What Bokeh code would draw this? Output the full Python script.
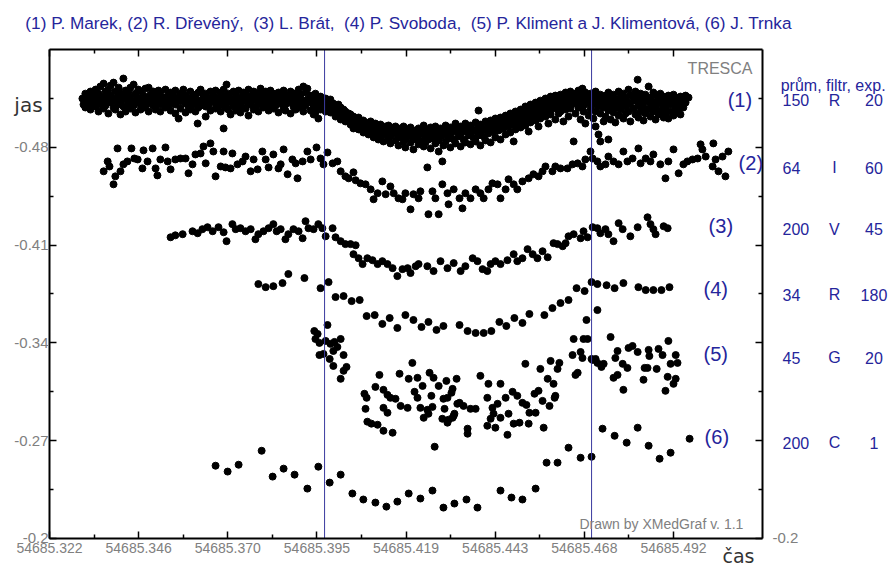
from bokeh.plotting import figure
from bokeh.models import Range1d, FixedTicker, LinearAxis, Label, ColumnDataSource
from bokeh.embed import file_html
from bokeh.resources import INLINE

# ---------------- data (time = JD - 54685, brightness "jas") ----------------
observers = ("(1) P. Marek, (2) R. Dřevěný,\u00a0 (3) L. Brát,\u00a0 (4) P. Svoboda,\u00a0 "
             "(5) P. Kliment a J. Klimentová, (6) J. Trnka")
series_labels = ["(1)", "(2)", "(3)", "(4)", "(5)", "(6)"]
table_header = "prům, filtr, exp."
aperture = ["150", "64", "200", "34", "45", "200"]
filters = ["R", "I", "V", "R", "G", "C"]
exposure = ["20", "60", "45", "180", "20", "1"]

x_ticks = [0.3216, 0.34597, 0.37034, 0.39471, 0.41908, 0.44345, 0.46782, 0.49219]
x_minor = [0.33379, 0.35816, 0.38253, 0.4069, 0.43127, 0.45564, 0.48001]
x_tick_labels = ["54685.322", "54685.346", "54685.370", "54685.395",
                 "54685.419", "54685.443", "54685.468", "54685.492"]
y_ticks = [-0.48, -0.41, -0.34, -0.27, -0.2]
y_minor = [-0.515, -0.445, -0.375, -0.305, -0.235]
y_tick_labels = ["-0.48", "-0.41", "-0.34", "-0.27", "-0.2"]
eclipse_marks = [0.3968, 0.4698]
t_min, t_max = 0.3216, 0.51653
jas_top, jas_bottom = -0.55, -0.2

series1 = [
 (0.3306,-0.5149),(0.3309,-0.5106),
 (0.3314,-0.5184),(0.3314,-0.5127),(0.3314,-0.5085),(0.3323,-0.5156),(0.3323,-0.5106),
 (0.3328,-0.5199),(0.3328,-0.5142),(0.3328,-0.5070),(0.3336,-0.5170),(0.3336,-0.5113),
 (0.3342,-0.5213),(0.3342,-0.5149),(0.3342,-0.5092),(0.3350,-0.5184),(0.3350,-0.5127),(0.3350,-0.5056),
 (0.3355,-0.5235),(0.3355,-0.5163),(0.3355,-0.5106),(0.3364,-0.5256),(0.3364,-0.5134),(0.3364,-0.5077),
 (0.3369,-0.5199),(0.3369,-0.5156),(0.3369,-0.5099),(0.3377,-0.5213),(0.3377,-0.5120),(0.3377,-0.5042),
 (0.3383,-0.5242),(0.3383,-0.5170),(0.3383,-0.5127),(0.3391,-0.5263),(0.3391,-0.5149),(0.3391,-0.5085),
 (0.3396,-0.5199),(0.3396,-0.5134),(0.3396,-0.5070),(0.3405,-0.5227),(0.3405,-0.5163),(0.3405,-0.5106),
 (0.3410,-0.5184),(0.3410,-0.5127),(0.3410,-0.5035),(0.3418,-0.5292),(0.3418,-0.5170),(0.3418,-0.5092),
 (0.3424,-0.5206),(0.3424,-0.5142),(0.3424,-0.5056),(0.3432,-0.5192),(0.3432,-0.5113),
 (0.3437,-0.5227),(0.3437,-0.5156),(0.3437,-0.5077),(0.3446,-0.5249),(0.3446,-0.5134),(0.3446,-0.5099),
 (0.3451,-0.5184),(0.3451,-0.5120),(0.3451,-0.5049),(0.3459,-0.5213),(0.3459,-0.5149),
 (0.3465,-0.5199),(0.3465,-0.5106),(0.3465,-0.5070),(0.3473,-0.5170),(0.3473,-0.5127),
 (0.3478,-0.5220),(0.3478,-0.5149),(0.3478,-0.5085),(0.3487,-0.5227),(0.3487,-0.5113),(0.3487,-0.5056),
 (0.3492,-0.5177),(0.3492,-0.5134),(0.3500,-0.5199),(0.3500,-0.5099),
 (0.3506,-0.5163),(0.3506,-0.5120),(0.3506,-0.5070),(0.3514,-0.5206),(0.3514,-0.5149),
 (0.3519,-0.5184),(0.3519,-0.5106),(0.3519,-0.5056),(0.3528,-0.5156),(0.3528,-0.5127),
 (0.3533,-0.5213),(0.3533,-0.5134),(0.3533,-0.5085),(0.3541,-0.5177),(0.3541,-0.5099),
 (0.3547,-0.5192),(0.3547,-0.5142),(0.3547,-0.5063),(0.3555,-0.5163),(0.3555,-0.5120),
 (0.3560,-0.5206),(0.3560,-0.5106),(0.3560,-0.5042),(0.3569,-0.5156),(0.3569,-0.5006),
 (0.3574,-0.5184),(0.3574,-0.5127),(0.3574,-0.5077),(0.3582,-0.5213),(0.3582,-0.5142),
 (0.3588,-0.5170),(0.3588,-0.5113),(0.3588,-0.5049),(0.3596,-0.5149),(0.3596,-0.5092),
 (0.3601,-0.5199),(0.3601,-0.5134),(0.3601,-0.5070),(0.3610,-0.5177),(0.3610,-0.5106),
 (0.3615,-0.5156),(0.3615,-0.5120),(0.3615,-0.5056),(0.3621,-0.4970),(0.3623,-0.5192),(0.3623,-0.5085),
 (0.3629,-0.5213),(0.3629,-0.5134),(0.3629,-0.5099),(0.3637,-0.5163),(0.3637,-0.5120),
 (0.3643,-0.5184),(0.3643,-0.5092),(0.3643,-0.5020),(0.3651,-0.5149),(0.3651,-0.5106),
 (0.3656,-0.5199),(0.3656,-0.5127),(0.3656,-0.5063),(0.3664,-0.5170),(0.3664,-0.5142),
 (0.3670,-0.5206),(0.3670,-0.5113),(0.3670,-0.5077),(0.3678,-0.5156),(0.3678,-0.5099),
 (0.3684,-0.5192),(0.3684,-0.5134),(0.3684,-0.5056),(0.3692,-0.5213),(0.3692,-0.5106),(0.3692,-0.4935),
 (0.3697,-0.5163),(0.3697,-0.5127),(0.3697,-0.5085),(0.3700,-0.5249),(0.3705,-0.5184),(0.3705,-0.5070),
 (0.3711,-0.5149),(0.3711,-0.5120),(0.3711,-0.5035),(0.3719,-0.5199),(0.3719,-0.5099),
 (0.3725,-0.5170),(0.3725,-0.5134),(0.3725,-0.5063),(0.3733,-0.5206),(0.3733,-0.5113),
 (0.3738,-0.5156),(0.3738,-0.5092),(0.3738,-0.5049),(0.3746,-0.5192),(0.3746,-0.5127),
 (0.3752,-0.5177),(0.3752,-0.5142),(0.3752,-0.5077),(0.3760,-0.5213),(0.3760,-0.5106),(0.3760,-0.5027),
 (0.3766,-0.5163),(0.3766,-0.5120),(0.3774,-0.5199),(0.3774,-0.5142),(0.3774,-0.5070),
 (0.3779,-0.5170),(0.3779,-0.5092),(0.3787,-0.5184),(0.3787,-0.5127),(0.3787,-0.5056),
 (0.3793,-0.5220),(0.3793,-0.5149),(0.3793,-0.5106),(0.3801,-0.5177),(0.3801,-0.5085),
 (0.3807,-0.5199),(0.3807,-0.5134),(0.3807,-0.5099),(0.3815,-0.5163),(0.3815,-0.5120),(0.3815,-0.5063),
 (0.3820,-0.5206),(0.3820,-0.5106),(0.3828,-0.5184),(0.3828,-0.5142),(0.3828,-0.5077),
 (0.3834,-0.5156),(0.3834,-0.5099),(0.3842,-0.5192),(0.3842,-0.5127),(0.3842,-0.5049),
 (0.3848,-0.5170),(0.3848,-0.5113),(0.3856,-0.5206),(0.3856,-0.5142),(0.3856,-0.5085),
 (0.3861,-0.5177),(0.3861,-0.5106),(0.3861,-0.5063),(0.3869,-0.5156),(0.3869,-0.5120),
 (0.3875,-0.5199),(0.3875,-0.5134),(0.3875,-0.5042),(0.3883,-0.5184),(0.3883,-0.5092),
 (0.3889,-0.5163),(0.3889,-0.5127),(0.3889,-0.5070),(0.3897,-0.5213),(0.3897,-0.5106),
 (0.3902,-0.5177),(0.3902,-0.5149),(0.3902,-0.5085),(0.3910,-0.5235),(0.3910,-0.5127),(0.3910,-0.5056),
 (0.3916,-0.5192),(0.3916,-0.5099),(0.3921,-0.5220),(0.3921,-0.5142),
 (0.3930,-0.5170),(0.3930,-0.5120),(0.3930,-0.5063),(0.3938,-0.5156),(0.3938,-0.5085),(0.3938,-0.5035),
 (0.3943,-0.5184),(0.3943,-0.5127),(0.3943,-0.5049),(0.3951,-0.5149),(0.3951,-0.5099),(0.3951,-0.5006),
 (0.3957,-0.5163),(0.3957,-0.5113),(0.3957,-0.5070),(0.3962,-0.5134),(0.3962,-0.5085),
 (0.3971,-0.5149),(0.3971,-0.5099),(0.3971,-0.5056),(0.3979,-0.5127),(0.3979,-0.5077),
 (0.3984,-0.5142),(0.3984,-0.5106),(0.3984,-0.5049),(0.3992,-0.5113),(0.3992,-0.5070),
 (0.3998,-0.5099),(0.3998,-0.5056),(0.3998,-0.5020),(0.4006,-0.5106),(0.4006,-0.5042),
 (0.4012,-0.5085),(0.4012,-0.5035),(0.4012,-0.4999),(0.4020,-0.5070),(0.4020,-0.5013),
 (0.4025,-0.5056),(0.4025,-0.5027),(0.4025,-0.4985),(0.4034,-0.5042),(0.4034,-0.4992),
 (0.4039,-0.5035),(0.4039,-0.5006),(0.4039,-0.4963),(0.4047,-0.5020),(0.4047,-0.4978),(0.4047,-0.4935),
 (0.4053,-0.4999),(0.4053,-0.4956),(0.4061,-0.5013),(0.4061,-0.4970),(0.4061,-0.4928),
 (0.4066,-0.4985),(0.4066,-0.4942),(0.4074,-0.4992),(0.4074,-0.4956),(0.4074,-0.4906),
 (0.4080,-0.4978),(0.4080,-0.4928),(0.4088,-0.4963),(0.4088,-0.4935),(0.4088,-0.4892),
 (0.4094,-0.4985),(0.4094,-0.4949),(0.4094,-0.4906),(0.4102,-0.4956),(0.4102,-0.4913),(0.4102,-0.4871),
 (0.4107,-0.4970),(0.4107,-0.4928),(0.4115,-0.4949),(0.4115,-0.4899),(0.4115,-0.4856),
 (0.4121,-0.4963),(0.4121,-0.4921),(0.4121,-0.4878),(0.4129,-0.4935),(0.4129,-0.4892),(0.4129,-0.4842),
 (0.4135,-0.4949),(0.4135,-0.4906),(0.4143,-0.4956),(0.4143,-0.4913),(0.4143,-0.4863),
 (0.4148,-0.4928),(0.4148,-0.4885),(0.4148,-0.4828),(0.4157,-0.4942),(0.4157,-0.4899),
 (0.4162,-0.4949),(0.4162,-0.4913),(0.4162,-0.4849),(0.4170,-0.4921),(0.4170,-0.4871),(0.4170,-0.4813),
 (0.4176,-0.4935),(0.4176,-0.4892),(0.4184,-0.4949),(0.4184,-0.4906),(0.4184,-0.4842),
 (0.4189,-0.4913),(0.4189,-0.4863),(0.4189,-0.4799),(0.4198,-0.4928),(0.4198,-0.4885),
 (0.4203,-0.4942),(0.4203,-0.4899),(0.4203,-0.4835),(0.4211,-0.4906),(0.4211,-0.4856),(0.4211,-0.4785),
 (0.4217,-0.4921),(0.4217,-0.4878),(0.4225,-0.4935),(0.4225,-0.4892),(0.4225,-0.4821),
 (0.4230,-0.4899),(0.4230,-0.4849),(0.4239,-0.4956),(0.4239,-0.4913),(0.4239,-0.4806),
 (0.4244,-0.4928),(0.4244,-0.4871),(0.4244,-0.4835),(0.4249,-0.4656),(0.4252,-0.4906),(0.4252,-0.4856),
 (0.4258,-0.4942),(0.4258,-0.4885),(0.4258,-0.4792),(0.4266,-0.4921),(0.4266,-0.4863),
 (0.4271,-0.4949),(0.4271,-0.4899),(0.4271,-0.4828),(0.4280,-0.4913),(0.4280,-0.4849),(0.4280,-0.4770),
 (0.4285,-0.4935),(0.4285,-0.4878),(0.4290,-0.4699),(0.4293,-0.4928),(0.4293,-0.4892),(0.4293,-0.4813),
 (0.4299,-0.4956),(0.4299,-0.4906),(0.4299,-0.4842),(0.4307,-0.4921),(0.4307,-0.4863),
 (0.4312,-0.4942),(0.4312,-0.4885),(0.4312,-0.4799),(0.4321,-0.4913),(0.4321,-0.4856),
 (0.4326,-0.4970),(0.4326,-0.4928),(0.4326,-0.4828),(0.4334,-0.4935),(0.4334,-0.4878),
 (0.4340,-0.4949),(0.4340,-0.4899),(0.4340,-0.4806),(0.4348,-0.4928),(0.4348,-0.4856),
 (0.4353,-0.4970),(0.4353,-0.4913),(0.4353,-0.4835),(0.4362,-0.4942),(0.4362,-0.4885),
 (0.4367,-0.4956),(0.4367,-0.4906),(0.4367,-0.4821),(0.4375,-0.4928),(0.4375,-0.4871),
 (0.4381,-0.4978),(0.4381,-0.4921),(0.4381,-0.4842),(0.4389,-0.5063),(0.4389,-0.4942),(0.4389,-0.4885),
 (0.4394,-0.4963),(0.4394,-0.4906),(0.4394,-0.4813),(0.4403,-0.4935),(0.4403,-0.4878),
 (0.4408,-0.4985),(0.4408,-0.4928),(0.4408,-0.4849),(0.4416,-0.4956),(0.4416,-0.4899),
 (0.4422,-0.4992),(0.4422,-0.4935),(0.4422,-0.4835),(0.4430,-0.4963),(0.4430,-0.4913),
 (0.4435,-0.5006),(0.4435,-0.4949),(0.4435,-0.4871),(0.4444,-0.4978),(0.4444,-0.4921),
 (0.4449,-0.5013),(0.4449,-0.4956),(0.4449,-0.4856),(0.4457,-0.4992),(0.4457,-0.4935),
 (0.4463,-0.5027),(0.4463,-0.4970),(0.4463,-0.4892),(0.4471,-0.5006),(0.4471,-0.4949),
 (0.4476,-0.5042),(0.4476,-0.4985),(0.4476,-0.4906),(0.4485,-0.5020),(0.4485,-0.4963),(0.4485,-0.4842),
 (0.4490,-0.5056),(0.4490,-0.4999),(0.4490,-0.4928),(0.4498,-0.5035),(0.4498,-0.4978),
 (0.4504,-0.5070),(0.4504,-0.5013),(0.4504,-0.4942),(0.4512,-0.5049),(0.4512,-0.4992),
 (0.4517,-0.5092),(0.4517,-0.5027),(0.4517,-0.4956),(0.4526,-0.5063),(0.4526,-0.5006),(0.4526,-0.4913),
 (0.4531,-0.5106),(0.4531,-0.5042),(0.4531,-0.4978),(0.4539,-0.5077),(0.4539,-0.5020),
 (0.4545,-0.5120),(0.4545,-0.5056),(0.4545,-0.4992),(0.4553,-0.5092),(0.4553,-0.5035),(0.4553,-0.4949),
 (0.4558,-0.5134),(0.4558,-0.5070),(0.4558,-0.5006),(0.4567,-0.5106),(0.4567,-0.5049),
 (0.4572,-0.5149),(0.4572,-0.5085),(0.4572,-0.5020),(0.4580,-0.5120),(0.4580,-0.5063),(0.4580,-0.4970),
 (0.4586,-0.5163),(0.4586,-0.5099),(0.4586,-0.5035),(0.4594,-0.5134),(0.4594,-0.5077),
 (0.4599,-0.5170),(0.4599,-0.5113),(0.4599,-0.4999),(0.4608,-0.5149),(0.4608,-0.5092),(0.4608,-0.5042),
 (0.4613,-0.5177),(0.4613,-0.5127),(0.4613,-0.5056),(0.4621,-0.5156),(0.4621,-0.5099),(0.4621,-0.4985),
 (0.4627,-0.5192),(0.4627,-0.5134),(0.4627,-0.5070),(0.4635,-0.5163),(0.4635,-0.5106),(0.4635,-0.5020),
 (0.4640,-0.5199),(0.4640,-0.5142),(0.4640,-0.5077),(0.4649,-0.5170),(0.4649,-0.5113),(0.4649,-0.4842),
 (0.4654,-0.5184),(0.4654,-0.5127),(0.4654,-0.5042),(0.4662,-0.5206),(0.4662,-0.5149),(0.4662,-0.5085),
 (0.4668,-0.5177),(0.4668,-0.5120),(0.4668,-0.4999),(0.4673,-0.5220),
 (0.4676,-0.5156),(0.4676,-0.5099),(0.4676,-0.5056),(0.4681,-0.5192),(0.4681,-0.5134),(0.4681,-0.4970),
 (0.4690,-0.5170),(0.4690,-0.5113),(0.4690,-0.5027),(0.4695,-0.5184),(0.4695,-0.5127),(0.4695,-0.5070),
 (0.4703,-0.5163),(0.4703,-0.5106),(0.4703,-0.5006),
 (0.4709,-0.5199),(0.4709,-0.5142),(0.4709,-0.5056),(0.4709,-0.4949),
 (0.4717,-0.5156),(0.4717,-0.5092),(0.4717,-0.4892),
 (0.4722,-0.5177),(0.4722,-0.5120),(0.4722,-0.5042),(0.4722,-0.4842),
 (0.4731,-0.5149),(0.4731,-0.5085),(0.4731,-0.4985),(0.4736,-0.5170),(0.4736,-0.5113),(0.4736,-0.5020),
 (0.4744,-0.5192),(0.4744,-0.5134),(0.4744,-0.5063),(0.4744,-0.4856),
 (0.4750,-0.5156),(0.4750,-0.5099),(0.4750,-0.4999),(0.4758,-0.5177),(0.4758,-0.5120),(0.4758,-0.5049),
 (0.4763,-0.5142),(0.4763,-0.5085),(0.4763,-0.4978),(0.4772,-0.5199),(0.4772,-0.5127),(0.4772,-0.5027),
 (0.4777,-0.5163),(0.4777,-0.5106),(0.4777,-0.5070),(0.4785,-0.5184),(0.4785,-0.5134),(0.4785,-0.5006),
 (0.4791,-0.5149),(0.4791,-0.5092),(0.4791,-0.5042),(0.4799,-0.5213),(0.4799,-0.5120),(0.4799,-0.5056),
 (0.4804,-0.5170),(0.4804,-0.5106),(0.4804,-0.4985),(0.4813,-0.5156),(0.4813,-0.5077),
 (0.4818,-0.5199),(0.4818,-0.5134),(0.4818,-0.5035),(0.4824,-0.5284),
 (0.4826,-0.5163),(0.4826,-0.5099),(0.4826,-0.5013),(0.4832,-0.5184),(0.4832,-0.5120),(0.4832,-0.5056),
 (0.4840,-0.5149),(0.4840,-0.5085),(0.4840,-0.4992),(0.4845,-0.5177),(0.4845,-0.5127),(0.4845,-0.5042),
 (0.4854,-0.5235),(0.4854,-0.5142),(0.4854,-0.5070),(0.4859,-0.5156),(0.4859,-0.5106),(0.4859,-0.5020),
 (0.4867,-0.5192),(0.4867,-0.5120),(0.4867,-0.5056),(0.4873,-0.5170),(0.4873,-0.5092),(0.4873,-0.4999),
 (0.4881,-0.5149),(0.4881,-0.5113),(0.4881,-0.5035),(0.4886,-0.5184),(0.4886,-0.5127),(0.4886,-0.5063),
 (0.4895,-0.5163),(0.4895,-0.5099),(0.4895,-0.5013),(0.4900,-0.5142),(0.4900,-0.5085),(0.4900,-0.5042),
 (0.4908,-0.5170),(0.4908,-0.5120),(0.4908,-0.5006),(0.4914,-0.5149),(0.4914,-0.5106),(0.4914,-0.5056),
 (0.4922,-0.5177),(0.4922,-0.5127),(0.4922,-0.5027),(0.4927,-0.5156),(0.4927,-0.5092),(0.4927,-0.5049),
 (0.4936,-0.5134),(0.4936,-0.5070),(0.4941,-0.5163),(0.4941,-0.5113),(0.4941,-0.5035),
 (0.4949,-0.5142),(0.4949,-0.5085),(0.4955,-0.5170),(0.4955,-0.5120),(0.4963,-0.5156),
]

series2 = [
 (0.3364,-0.4628),(0.3375,-0.4699),(0.3380,-0.4663),(0.3391,-0.4535),(0.3396,-0.4592),(0.3402,-0.4792),
 (0.3410,-0.4628),(0.3418,-0.4678),(0.3429,-0.4699),(0.3440,-0.4792),(0.3448,-0.4720),(0.3457,-0.4713),
 (0.3470,-0.4649),(0.3473,-0.4778),(0.3484,-0.4699),(0.3498,-0.4792),(0.3506,-0.4649),(0.3511,-0.4599),
 (0.3519,-0.4713),(0.3533,-0.4799),(0.3539,-0.4699),(0.3547,-0.4642),(0.3560,-0.4713),(0.3574,-0.4720),
 (0.3588,-0.4720),(0.3596,-0.4614),(0.3607,-0.4678),(0.3615,-0.4749),(0.3629,-0.4756),(0.3637,-0.4806),
 (0.3643,-0.4685),(0.3656,-0.4828),(0.3664,-0.4770),(0.3670,-0.4592),(0.3684,-0.4663),(0.3692,-0.4770),
 (0.3697,-0.4656),(0.3711,-0.4649),(0.3716,-0.4756),(0.3730,-0.4678),(0.3744,-0.4699),(0.3752,-0.4734),
 (0.3766,-0.4628),(0.3774,-0.4713),(0.3785,-0.4642),(0.3798,-0.4770),(0.3807,-0.4713),(0.3815,-0.4656),
 (0.3828,-0.4749),(0.3842,-0.4649),(0.3848,-0.4678),(0.3856,-0.4785),(0.3867,-0.4607),(0.3880,-0.4713),
 (0.3889,-0.4685),(0.3894,-0.4578),(0.3908,-0.4699),(0.3921,-0.4770),(0.3930,-0.4713),(0.3946,-0.4799),
 (0.3957,-0.4720),(0.3965,-0.4678),(0.3976,-0.4763),(0.3990,-0.4685),(0.4003,-0.4699),(0.4012,-0.4628),
 (0.4025,-0.4592),(0.4034,-0.4578),(0.4047,-0.4621),(0.4053,-0.4564),(0.4066,-0.4542),(0.4080,-0.4535),
 (0.4094,-0.4499),(0.4102,-0.4428),(0.4113,-0.4471),(0.4126,-0.4556),(0.4135,-0.4464),(0.4148,-0.4520),
 (0.4157,-0.4471),(0.4170,-0.4435),(0.4181,-0.4428),(0.4189,-0.4471),(0.4203,-0.4356),(0.4211,-0.4464),
 (0.4225,-0.4435),(0.4230,-0.4485),(0.4252,-0.4321),(0.4263,-0.4485),(0.4271,-0.4435),(0.4280,-0.4321),
 (0.4290,-0.4535),(0.4304,-0.4471),(0.4307,-0.4392),(0.4321,-0.4499),(0.4337,-0.4435),(0.4345,-0.4363),
 (0.4353,-0.4471),(0.4367,-0.4435),(0.4381,-0.4499),(0.4394,-0.4471),(0.4403,-0.4435),(0.4416,-0.4499),
 (0.4427,-0.4542),(0.4441,-0.4535),(0.4449,-0.4435),(0.4463,-0.4499),(0.4471,-0.4571),(0.4485,-0.4535),
 (0.4495,-0.4499),(0.4509,-0.4556),(0.4526,-0.4578),(0.4539,-0.4607),(0.4553,-0.4592),(0.4564,-0.4628),
 (0.4572,-0.4663),(0.4591,-0.4628),(0.4599,-0.4663),(0.4613,-0.4649),(0.4632,-0.4649),(0.4646,-0.4678),
 (0.4660,-0.4685),(0.4673,-0.4663),(0.4681,-0.4713),(0.4695,-0.4770),(0.4701,-0.4720),(0.4714,-0.4699),
 (0.4722,-0.4663),(0.4736,-0.4678),(0.4744,-0.4734),(0.4758,-0.4699),(0.4772,-0.4678),(0.4785,-0.4770),
 (0.4796,-0.4699),(0.4810,-0.4720),(0.4826,-0.4792),(0.4832,-0.4685),(0.4846,-0.4720),(0.4859,-0.4699),
 (0.4867,-0.4749),(0.4886,-0.4678),(0.4900,-0.4578),(0.4908,-0.4699),(0.4922,-0.4785),(0.4936,-0.4614),
 (0.4949,-0.4678),(0.4960,-0.4699),(0.4974,-0.4713),(0.4988,-0.4720),(0.4996,-0.4821),(0.5001,-0.4785),
 (0.5010,-0.4734),(0.5029,-0.4663),(0.5031,-0.4828),(0.5037,-0.4713),(0.5045,-0.4628),(0.5056,-0.4734),
 (0.5064,-0.4592),(0.5072,-0.4770),
]

series3 = [
 (0.3547,-0.4156),(0.3560,-0.4170),(0.3580,-0.4178),(0.3607,-0.4199),(0.3621,-0.4185),(0.3634,-0.4214),
 (0.3648,-0.4228),(0.3662,-0.4199),(0.3678,-0.4228),(0.3692,-0.4192),(0.3700,-0.4128),(0.3716,-0.4250),
 (0.3725,-0.4214),(0.3738,-0.4221),(0.3752,-0.4199),(0.3766,-0.4214),(0.3779,-0.4142),(0.3787,-0.4178),
 (0.3801,-0.4199),(0.3815,-0.4221),(0.3828,-0.4250),(0.3837,-0.4199),(0.3848,-0.4214),(0.3861,-0.4142),
 (0.3869,-0.4178),(0.3883,-0.4214),(0.3897,-0.4199),(0.3908,-0.4149),(0.3916,-0.4271),(0.3924,-0.4221),
 (0.3938,-0.4214),(0.3951,-0.4250),(0.3962,-0.4221),(0.3971,-0.4163),(0.3990,-0.4221),(0.3998,-0.4156),
 (0.4012,-0.4128),(0.4025,-0.4107),(0.4039,-0.4107),(0.4053,-0.4099),(0.4047,-0.4035),(0.4061,-0.4006),
 (0.4072,-0.3964),(0.4085,-0.4006),(0.4099,-0.3992),(0.4113,-0.3964),(0.4126,-0.3985),(0.4140,-0.3964),
 (0.4154,-0.3935),(0.4167,-0.3878),(0.4181,-0.3928),(0.4195,-0.3935),(0.4203,-0.3900),(0.4217,-0.3949),
 (0.4225,-0.3964),(0.4249,-0.3949),(0.4266,-0.3914),(0.4285,-0.3985),(0.4304,-0.3935),(0.4321,-0.3971),
 (0.4340,-0.3914),(0.4353,-0.3949),(0.4373,-0.4006),(0.4386,-0.3985),(0.4400,-0.3928),(0.4413,-0.3914),
 (0.4422,-0.3964),(0.4435,-0.3985),(0.4449,-0.3964),(0.4468,-0.3992),(0.4485,-0.4035),(0.4495,-0.3985),
 (0.4509,-0.4006),(0.4523,-0.4071),(0.4537,-0.4035),(0.4550,-0.4006),(0.4564,-0.4056),(0.4578,-0.4013),
 (0.4594,-0.4114),(0.4605,-0.4107),(0.4619,-0.4092),(0.4627,-0.4114),(0.4635,-0.4163),(0.4649,-0.4178),
 (0.4668,-0.4149),(0.4676,-0.4199),(0.4687,-0.4156),(0.4701,-0.4228),(0.4714,-0.4221),(0.4722,-0.4185),
 (0.4736,-0.4214),(0.4744,-0.4178),(0.4758,-0.4128),(0.4772,-0.4257),(0.4783,-0.4214),(0.4804,-0.4163),
 (0.4824,-0.4228),(0.4851,-0.4299),(0.4859,-0.4250),(0.4867,-0.4214),(0.4873,-0.4178),(0.4895,-0.4235),
 (0.4906,-0.4221),
]

series4 = [
 (0.3787,-0.3821),(0.3807,-0.3799),(0.3828,-0.3806),(0.3853,-0.3828),(0.3869,-0.3893),(0.3913,-0.3864),
 (0.3957,-0.3792),(0.3979,-0.3835),(0.3998,-0.3728),(0.4020,-0.3735),(0.4042,-0.3699),(0.4064,-0.3707),
 (0.4083,-0.3592),(0.4105,-0.3599),(0.4126,-0.3536),(0.4146,-0.3578),(0.4167,-0.3507),(0.4189,-0.3599),
 (0.4211,-0.3564),(0.4233,-0.3514),(0.4252,-0.3550),(0.4274,-0.3493),(0.4293,-0.3521),(0.4337,-0.3528),
 (0.4359,-0.3485),(0.4381,-0.3471),(0.4403,-0.3471),(0.4424,-0.3485),(0.4446,-0.3550),(0.4465,-0.3521),
 (0.4487,-0.3578),(0.4509,-0.3543),(0.4528,-0.3607),(0.4569,-0.3599),(0.4591,-0.3649),(0.4613,-0.3685),
 (0.4635,-0.3707),(0.4657,-0.3792),(0.4679,-0.3771),(0.4698,-0.3835),(0.4714,-0.3821),(0.4739,-0.3813),
 (0.4761,-0.3792),(0.4785,-0.3828),(0.4826,-0.3799),(0.4846,-0.3778),(0.4867,-0.3778),(0.4889,-0.3778),
 (0.4911,-0.3799),
]

series5 = [
 (0.3976,-0.3528),(0.3940,-0.3485),(0.3949,-0.3464),(0.3943,-0.3428),(0.3954,-0.3400),(0.3971,-0.3414),
 (0.3984,-0.3393),(0.3995,-0.3407),(0.4012,-0.3428),(0.4003,-0.3371),(0.3954,-0.3313),(0.3965,-0.3321),
 (0.3982,-0.3285),(0.3992,-0.3235),(0.4020,-0.3313),(0.4028,-0.3228),(0.4020,-0.3200),(0.4012,-0.3143),
 (0.3992,-0.3342),
 (0.4208,-0.3257),(0.4118,-0.3171),(0.4173,-0.3179),(0.4198,-0.3143),(0.4222,-0.3150),(0.4255,-0.3186),
 (0.4266,-0.3150),(0.4280,-0.3092),(0.4301,-0.3128),(0.4329,-0.3143),(0.4107,-0.3085),(0.4129,-0.3064),
 (0.4077,-0.3036),(0.4083,-0.3007),(0.4140,-0.3028),(0.4148,-0.3007),(0.4162,-0.3000),(0.4214,-0.3050),
 (0.4236,-0.3092),(0.4222,-0.3007),(0.4260,-0.3021),(0.4293,-0.3000),(0.4315,-0.3043),(0.4331,-0.2964),
 (0.4080,-0.2928),(0.4129,-0.2935),(0.4140,-0.2900),(0.4176,-0.2949),(0.4195,-0.2935),(0.4230,-0.2935),
 (0.4249,-0.2921),(0.4263,-0.2942),(0.4296,-0.2928),(0.4239,-0.2864),(0.4252,-0.2893),(0.4290,-0.2857),
 (0.4307,-0.2850),(0.4321,-0.2878),(0.4085,-0.2836),(0.4096,-0.2822),(0.4113,-0.2814),(0.4129,-0.2771),
 (0.4154,-0.2757),(0.4269,-0.2657),
 (0.4318,-0.3071),(0.4304,-0.3007),(0.4323,-0.2893),(0.4304,-0.2829),(0.4337,-0.2971),(0.4348,-0.2949),
 (0.4367,-0.2928),(0.4381,-0.2928),(0.4318,-0.2864),(0.4359,-0.2786),(0.4359,-0.2750),(0.4394,-0.3164),
 (0.4416,-0.3107),(0.4449,-0.3107),(0.4413,-0.3007),(0.4427,-0.2935),(0.4441,-0.2964),(0.4430,-0.2893),
 (0.4422,-0.2857),(0.4413,-0.2807),(0.4435,-0.2793),(0.4449,-0.2864),(0.4463,-0.3007),(0.4471,-0.2893),
 (0.4482,-0.3050),(0.4485,-0.2822),(0.4468,-0.2742),(0.4495,-0.3021),(0.4501,-0.2829),(0.4509,-0.2971),
 (0.4520,-0.2956),(0.4526,-0.2822),(0.4517,-0.3250),(0.4528,-0.2900),(0.4542,-0.3036),(0.4545,-0.2900),
 (0.4553,-0.3057),(0.4558,-0.3214),(0.4564,-0.2985),(0.4567,-0.2793),(0.4578,-0.3143),(0.4583,-0.2949),
 (0.4586,-0.3271),(0.4594,-0.3107),(0.4597,-0.3007),(0.4605,-0.3214),(0.4610,-0.3257),(0.4599,-0.3021),
 (0.4649,-0.3428),(0.4654,-0.3171),(0.4660,-0.3186),(0.4646,-0.3313),(0.4668,-0.3335),(0.4673,-0.3292),
 (0.4676,-0.3428),(0.4687,-0.3428),(0.4684,-0.3564),(0.4698,-0.3285),(0.4701,-0.3278),(0.4709,-0.3285),
 (0.4714,-0.3257),(0.4725,-0.3228),(0.4731,-0.3250),(0.4714,-0.3635),(0.4750,-0.3442),(0.4758,-0.3150),
 (0.4769,-0.3171),(0.4763,-0.3292),(0.4769,-0.3342),(0.4783,-0.3250),(0.4785,-0.3064),(0.4796,-0.3221),
 (0.4799,-0.3364),(0.4810,-0.3378),(0.4824,-0.3335),(0.4840,-0.3136),(0.4843,-0.3221),(0.4851,-0.3221),
 (0.4854,-0.3350),(0.4856,-0.3306),(0.4876,-0.3214),(0.4881,-0.3357),(0.4892,-0.3313),(0.4900,-0.3057),
 (0.4906,-0.3157),(0.4908,-0.3414),(0.4914,-0.3250),(0.4922,-0.3107),(0.4928,-0.3143),(0.4933,-0.3257),
 (0.4928,-0.3313),
]

series6 = [
 (0.3670,-0.2521),(0.3703,-0.2479),(0.3733,-0.2528),(0.3796,-0.2628),(0.3826,-0.2443),(0.3856,-0.2500),
 (0.3886,-0.2457),(0.3921,-0.2357),(0.3951,-0.2514),(0.3982,-0.2400),(0.4012,-0.2457),(0.4044,-0.2322),
 (0.4074,-0.2279),(0.4107,-0.2257),(0.4137,-0.2228),(0.4167,-0.2264),(0.4198,-0.2322),(0.4230,-0.2286),
 (0.4263,-0.2343),(0.4293,-0.2221),(0.4323,-0.2250),(0.4356,-0.2279),(0.4386,-0.2221),(0.4449,-0.2343),
 (0.4479,-0.2293),(0.4509,-0.2279),(0.4545,-0.2357),(0.4575,-0.2543),(0.4605,-0.2543),(0.4635,-0.2650),
 (0.4668,-0.2578),(0.4698,-0.2585),(0.4728,-0.2786),(0.4761,-0.2735),(0.4794,-0.2686),(0.4824,-0.2793),
 (0.4854,-0.2664),(0.4884,-0.2571),(0.4914,-0.2614),(0.4966,-0.2714),
]

all_series = [series1, series2, series3, series4, series5, series6]

# ---------------- style ----------------
BLUE = "#25259b"
GRAY = "#808080"
FONT = "Liberation Sans"

# the frame covers the whole canvas; the plot box is drawn by axes at fixed locations
p = figure(width=891, height=567, output_backend="svg", toolbar_location=None,
           x_range=Range1d(0.3082, 0.5518), y_range=Range1d(-0.17924, -0.58507),
           x_axis_type=None, y_axis_type=None, min_border=0)
p.background_fill_color = "white"
p.border_fill_color = "white"
p.outline_line_color = None


def make_axis(ticks, minor, labels, standoff, loc, bounds, size="14px"):
    ax = LinearAxis(ticker=FixedTicker(ticks=ticks, minor_ticks=minor),
                    fixed_location=loc, bounds=bounds)
    ax.axis_line_color = "black"
    ax.axis_line_width = 2
    ax.major_tick_in = 7
    ax.major_tick_out = 0
    ax.minor_tick_in = 4
    ax.minor_tick_out = 0
    ax.major_tick_line_width = 1.5
    ax.minor_tick_line_width = 1.5
    ax.major_tick_line_color = "black"
    ax.minor_tick_line_color = "black"
    ax.major_label_text_font = FONT
    ax.major_label_text_font_size = size
    ax.major_label_text_color = GRAY
    ax.major_label_standoff = standoff
    ax.major_label_overrides = {t: lab for t, lab in zip(ticks, labels)}
    return ax


xb = (t_min, t_max)
yb = (jas_top, jas_bottom)
p.add_layout(make_axis(x_ticks, x_minor, x_tick_labels, 5, jas_bottom, xb), "below")
p.add_layout(make_axis(x_ticks, x_minor, [""] * len(x_ticks), 2, jas_top, xb), "above")
p.add_layout(make_axis(y_ticks, y_minor, y_tick_labels, 1, t_min, yb, "15px"), "left")
p.add_layout(make_axis(y_ticks, y_minor, [""] * (len(y_ticks) - 1) + [y_tick_labels[-1]],
                       10, t_max, yb, "15px"), "right")

for s in all_series:
    src = ColumnDataSource(dict(t=[a for a, b in s], jas=[b for a, b in s]))
    p.scatter("t", "jas", source=src, size=7, marker="circle",
              fill_color="black", line_color="black")

p.segment(x0=eclipse_marks, x1=eclipse_marks, y0=[jas_top] * len(eclipse_marks),
          y1=[jas_bottom] * len(eclipse_marks), line_color="#3a3a9e", line_width=1)

# texts
p.add_layout(Label(x=0.3150, y=-0.5693, text=observers, text_font=FONT, text_font_size="17.2px",
                   text_color=BLUE, text_align="left", text_baseline="middle"))
p.add_layout(Label(x=0.3197, y=-0.5103, text="jas", text_font="DejaVu Sans", text_font_size="20px",
                   text_color="#333333", text_align="right", text_baseline="middle"))
p.add_layout(Label(x=0.5056, y=-0.1878, text="čas", text_font="DejaVu Sans", text_font_size="19px",
                   text_color="#333333", text_align="left", text_baseline="middle"))
p.add_layout(Label(x=0.5138, y=-0.5364, text="TRESCA", text_font=FONT, text_font_size="16px",
                   text_color=GRAY, text_align="right", text_baseline="middle"))
p.add_layout(Label(x=0.5113, y=-0.2107, text="Drawn by XMedGraf v. 1.1", text_font=FONT,
                   text_font_size="14px", text_color=GRAY, text_align="right", text_baseline="middle"))

label_x = [0.5070, 0.5100, 0.5018, 0.5004, 0.5004, 0.5007]
label_y = [-0.5142, -0.4691, -0.4240, -0.3789, -0.3324, -0.2723]
for lab, lx, ly in zip(series_labels, label_x, label_y):
    p.add_layout(Label(x=lx, y=ly, text=lab, text_font=FONT, text_font_size="20px",
                       text_color=BLUE, text_align="left", text_baseline="middle"))

p.add_layout(Label(x=0.5215, y=-0.5242, text=table_header, text_font=FONT, text_font_size="16px",
                   text_color=BLUE, text_align="left", text_baseline="middle"))
row_y = [-0.5135, -0.4655, -0.4212, -0.3746, -0.3295, -0.2687]
for a, f, e, ry in zip(aperture, filters, exposure, row_y):
    p.add_layout(Label(x=0.5220, y=ry, text=a, text_font=FONT, text_font_size="16px",
                       text_color=BLUE, text_align="left", text_baseline="middle"))
    p.add_layout(Label(x=0.5362, y=ry, text=f, text_font=FONT, text_font_size="16px",
                       text_color=BLUE, text_align="center", text_baseline="middle"))
    p.add_layout(Label(x=0.5470, y=ry, text=e, text_font=FONT, text_font_size="16px",
                       text_color=BLUE, text_align="center", text_baseline="middle"))

open("out.html", "w").write(file_html(p, INLINE))
